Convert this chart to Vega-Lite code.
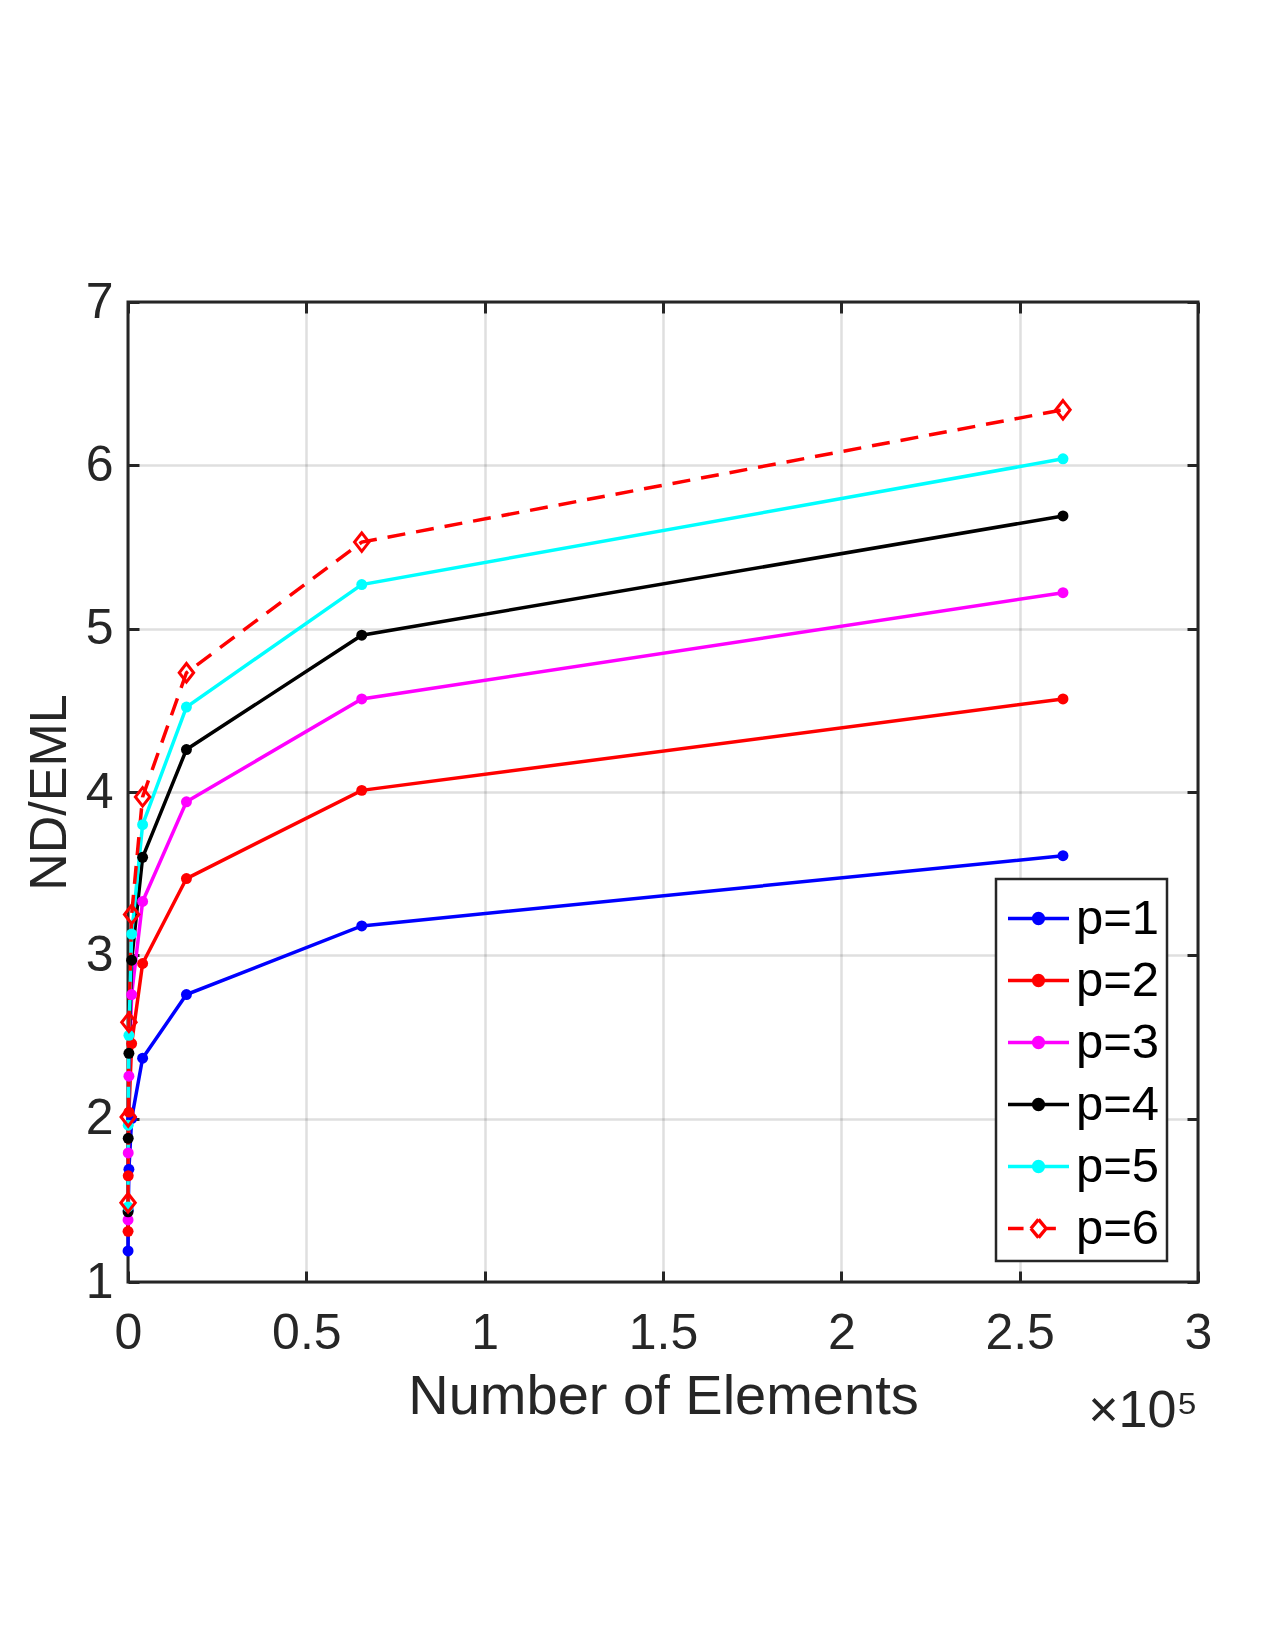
{
  "$schema": "https://vega.github.io/schema/vega-lite/v6.json",
  "width": 1070,
  "height": 980,
  "autosize": {"type": "none"},
  "padding": {"left": 128, "top": 302, "right": 77, "bottom": 368},
  "background": "white",
  "config": {
    "font": "Liberation Sans",
    "view": {"stroke": "#262626", "strokeWidth": 3},
    "axis": {
      "labelFont": "Liberation Sans",
      "titleFont": "Liberation Sans",
      "labelColor": "#262626",
      "titleColor": "#262626",
      "titleFontWeight": "normal",
      "tickColor": "#262626",
      "tickWidth": 3,
      "gridColor": "#262626",
      "gridOpacity": 0.15,
      "gridWidth": 2.5,
      "domain": false,
      "labelFlush": false
    }
  },
  "data": {
    "values": [
      {"p": "p=1", "n": 16, "v": 1.19}, {"p": "p=1", "n": 64, "v": 1.44}, {"p": "p=1", "n": 256, "v": 1.69}, {"p": "p=1", "n": 1024, "v": 2.0},
      {"p": "p=1", "n": 4096, "v": 2.37}, {"p": "p=1", "n": 16384, "v": 2.76}, {"p": "p=1", "n": 65536, "v": 3.18}, {"p": "p=1", "n": 262144, "v": 3.61},
      {"p": "p=2", "n": 16, "v": 1.31}, {"p": "p=2", "n": 64, "v": 1.65}, {"p": "p=2", "n": 256, "v": 2.04}, {"p": "p=2", "n": 1024, "v": 2.46},
      {"p": "p=2", "n": 4096, "v": 2.95}, {"p": "p=2", "n": 16384, "v": 3.47}, {"p": "p=2", "n": 65536, "v": 4.01}, {"p": "p=2", "n": 262144, "v": 4.57},
      {"p": "p=3", "n": 16, "v": 1.38}, {"p": "p=3", "n": 64, "v": 1.79}, {"p": "p=3", "n": 256, "v": 2.26}, {"p": "p=3", "n": 1024, "v": 2.76},
      {"p": "p=3", "n": 4096, "v": 3.33}, {"p": "p=3", "n": 16384, "v": 3.94}, {"p": "p=3", "n": 65536, "v": 4.57}, {"p": "p=3", "n": 262144, "v": 5.22},
      {"p": "p=4", "n": 16, "v": 1.43}, {"p": "p=4", "n": 64, "v": 1.88}, {"p": "p=4", "n": 256, "v": 2.4}, {"p": "p=4", "n": 1024, "v": 2.97},
      {"p": "p=4", "n": 4096, "v": 3.6}, {"p": "p=4", "n": 16384, "v": 4.26}, {"p": "p=4", "n": 65536, "v": 4.96}, {"p": "p=4", "n": 262144, "v": 5.69},
      {"p": "p=5", "n": 16, "v": 1.46}, {"p": "p=5", "n": 64, "v": 1.96}, {"p": "p=5", "n": 256, "v": 2.51}, {"p": "p=5", "n": 1024, "v": 3.13},
      {"p": "p=5", "n": 4096, "v": 3.8}, {"p": "p=5", "n": 16384, "v": 4.52}, {"p": "p=5", "n": 65536, "v": 5.27}, {"p": "p=5", "n": 262144, "v": 6.04},
      {"p": "p=6", "n": 16, "v": 1.485}, {"p": "p=6", "n": 64, "v": 2.01}, {"p": "p=6", "n": 256, "v": 2.59}, {"p": "p=6", "n": 1024, "v": 3.25},
      {"p": "p=6", "n": 4096, "v": 3.97}, {"p": "p=6", "n": 16384, "v": 4.73}, {"p": "p=6", "n": 65536, "v": 5.53}, {"p": "p=6", "n": 262144, "v": 6.34}
    ]
  },
  "title": {
    "text": "×10⁵",
    "orient": "bottom",
    "anchor": "end",
    "frame": "group",
    "font": "Liberation Sans",
    "fontSize": 52,
    "fontWeight": "normal",
    "color": "#262626",
    "offset": -38
  },
  "layer": [
    {
      "transform": [{"filter": "datum.p !== 'p=6'"}],
      "mark": {"type": "line", "strokeWidth": 3.5},
      "encoding": {
        "x": {
          "field": "n", "type": "quantitative",
          "scale": {"domain": [0, 300000], "nice": false},
          "axis": {
            "orient": "bottom",
            "values": [0, 50000, 100000, 150000, 200000, 250000, 300000],
            "labelExpr": "'' + datum.value / 100000",
            "title": "Number of Elements",
            "titleFontSize": 56,
            "labelFontSize": 50,
            "tickSize": -11,
            "labelPadding": 37,
            "titlePadding": 11,
            "grid": true
          }
        },
        "y": {
          "field": "v", "type": "quantitative",
          "scale": {"domain": [1, 7], "nice": false},
          "axis": {
            "orient": "left",
            "values": [1, 2, 3, 4, 5, 6, 7],
            "title": "ND/EML",
            "titleFontSize": 52,
            "labelFontSize": 50,
            "tickSize": -11,
            "labelPadding": 26,
            "titlePadding": 8.5,
            "grid": true
          }
        },
        "color": {
          "field": "p", "type": "nominal",
          "scale": {"domain": ["p=1", "p=2", "p=3", "p=4", "p=5", "p=6"], "range": ["#0000ff", "#ff0000", "#ff00ff", "#000000", "#00ffff", "#ff0000"]},
          "legend": {
            "orient": "none",
            "legendX": 868,
            "legendY": 577,
            "direction": "vertical",
            "title": null,
            "symbolSize": 3721,
            "symbolStrokeWidth": 3.5,
            "symbolOffset": 3,
            "labelFont": "Liberation Sans",
            "labelFontSize": 49,
            "labelColor": "#000000",
            "labelOffset": 5,
            "labelExpr": "datum.label + '\u00a0'",
            "padding": 7,
            "rowPadding": 4,
            "strokeColor": "#262626",
            "fillColor": "#ffffff",
            "encode": {
              "legend": {"update": {"strokeWidth": {"value": 2.5}}},
              "symbols": {
                "update": {
                  "shape": {"signal": "datum.value === 'p=6' ? 'M-1,0L-0.49,0M-0.25,0L0,-0.3M0,-0.3L0.25,0M0.25,0L0,0.3M0,0.3L-0.25,0M0.25,0L0.57,0' : 'M-1,0L1,0M-0.16,0A0.16,0.16,0,1,1,0.16,0A0.16,0.16,0,1,1,-0.16,0Z'"},
                  "fill": {"signal": "datum.value === 'p=6' ? 'transparent' : scale('color', datum.value)"},
                  "stroke": {"signal": "scale('color', datum.value)"},
                  "strokeDash": {"value": []},
                  "opacity": {"value": 1}
                }
              }
            }
          }
        }
      }
    },
    {
      "transform": [{"filter": "datum.p === 'p=6'"}],
      "mark": {"type": "line", "strokeWidth": 3.5, "color": "#ff0000", "strokeDash": [18, 11]},
      "encoding": {
        "x": {"field": "n", "type": "quantitative", "axis": null},
        "y": {"field": "v", "type": "quantitative", "axis": null}
      }
    },
    {
      "transform": [{"filter": "datum.p !== 'p=6'"}],
      "mark": {"type": "point", "filled": true, "size": 120, "opacity": 1, "shape": "circle"},
      "encoding": {
        "x": {"field": "n", "type": "quantitative", "axis": null},
        "y": {"field": "v", "type": "quantitative", "axis": null},
        "color": {"field": "p", "type": "nominal"}
      }
    },
    {
      "transform": [{"filter": "datum.p === 'p=6'"}],
      "mark": {"type": "point", "filled": false, "size": 342, "opacity": 1, "shape": "M0,-1L0.78,0L0,1L-0.78,0Z", "strokeWidth": 3, "color": "#ff0000"},
      "encoding": {
        "x": {
          "field": "n", "type": "quantitative",
          "axis": {"orient": "top", "values": [0, 50000, 100000, 150000, 200000, 250000, 300000], "labels": false, "title": null, "grid": false, "tickSize": -11}
        },
        "y": {
          "field": "v", "type": "quantitative",
          "axis": {"orient": "right", "values": [1, 2, 3, 4, 5, 6, 7], "labels": false, "title": null, "grid": false, "tickSize": -11}
        }
      }
    }
  ],
  "resolve": {"axis": {"x": "independent", "y": "independent"}}
}
